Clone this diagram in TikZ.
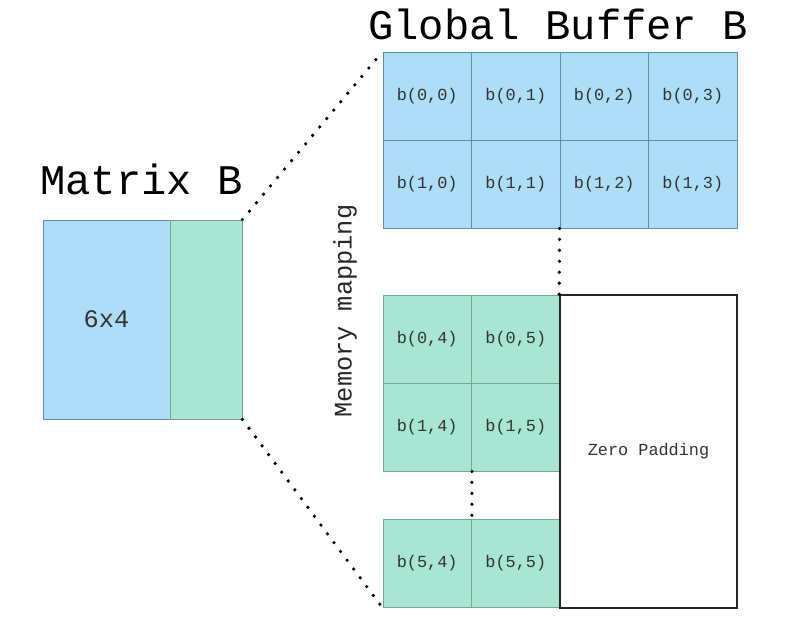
\documentclass[tikz,border=0pt]{standalone}
\usepackage{fontspec}
\setmainfont{Liberation Mono}
\usepackage{tikz}
\definecolor{bufblue}{HTML}{ADDDF7}
\definecolor{bufblueline}{HTML}{5E8FA6}
\definecolor{bufgreen}{HTML}{A8E6D3}
\definecolor{bufgreenline}{HTML}{73A896}
\definecolor{celltext}{HTML}{333333}
\tikzstyle{BlueCell}=[minimum width=2.2125cm, minimum height=2.2cm, fill=bufblue, draw=bufblueline, line width=0.6pt, shape=rectangle, text=celltext, font=\fontsize{12}{14}\selectfont, inner sep=0pt]
\tikzstyle{GreenCell}=[minimum width=2.2125cm, minimum height=2.2cm, fill=bufgreen, draw=bufgreenline, line width=0.6pt, shape=rectangle, text=celltext, font=\fontsize{12}{14}\selectfont, inner sep=0pt]
\tikzstyle{Title}=[font=\fontsize{30}{34}\selectfont, text=black, inner sep=0pt, anchor=base west]
\tikzstyle{dots}=[line width=2.6pt, line cap=round, dash pattern=on 0pt off 7.8pt]
\pgfdeclarelayer{nodelayer}
\pgfdeclarelayer{edgelayer}
\pgfsetlayers{nodelayer, edgelayer, main}
\begin{document}
\begin{tikzpicture}
	\useasboundingbox (0,0) rectangle (20.1,15.75);
	\begin{pgfonlayer}{nodelayer}
		% matrix on the left
		\node [Title] (mattitle) at (1.0,10.875) {Matrix B};
		\node [style=BlueCell, minimum width=3.175cm, minimum height=4.975cm, font=\fontsize{18}{20}\selectfont] (matblue) at (2.6625,7.7625) {6x4};
		\node [style=GreenCell, minimum width=1.8cm, minimum height=4.975cm] (matgreen) at (5.15,7.7625) {};

		% global buffer
		\node [Title] (buftitle) at (9.2,14.75) {Global Buffer B};
		\node [style=BlueCell] (b00) at (10.681,13.35) {b(0,0)};
		\node [style=BlueCell] (b01) at (12.894,13.35) {b(0,1)};
		\node [style=BlueCell] (b02) at (15.106,13.35) {b(0,2)};
		\node [style=BlueCell] (b03) at (17.319,13.35) {b(0,3)};
		\node [style=BlueCell] (b10) at (10.681,11.15) {b(1,0)};
		\node [style=BlueCell] (b11) at (12.894,11.15) {b(1,1)};
		\node [style=BlueCell] (b12) at (15.106,11.15) {b(1,2)};
		\node [style=BlueCell] (b13) at (17.319,11.15) {b(1,3)};

		\node [style=GreenCell] (b04) at (10.681,7.275) {b(0,4)};
		\node [style=GreenCell] (b05) at (12.894,7.275) {b(0,5)};
		\node [style=GreenCell] (b14) at (10.681,5.075) {b(1,4)};
		\node [style=GreenCell] (b15) at (12.894,5.075) {b(1,5)};
		\node [style=GreenCell] (b54) at (10.681,1.6625) {b(5,4)};
		\node [style=GreenCell] (b55) at (12.894,1.6625) {b(5,5)};

		\node [draw=black!85, fill=white, line width=1.1pt, minimum width=4.425cm, minimum height=7.825cm, text=celltext, font=\fontsize{12}{14}\selectfont] (padding) at (16.2125,4.4625) {Zero Padding};

		\node [rotate=90, font=\fontsize{18}{20}\selectfont, text=black!85] (mapping) at (8.625,7.975) {Memory mapping};
	\end{pgfonlayer}
	\begin{pgfonlayer}{edgelayer}
		\draw [style=dots] (matgreen.north east) to (b00.north west);
		\draw [style=dots] (matgreen.south east) to (b54.south west);
		\draw [style=dots] (b12.south west) to (padding.north west);
		\draw [style=dots] (b14.south east) to (b54.north east);
	\end{pgfonlayer}
\end{tikzpicture}
\end{document}
